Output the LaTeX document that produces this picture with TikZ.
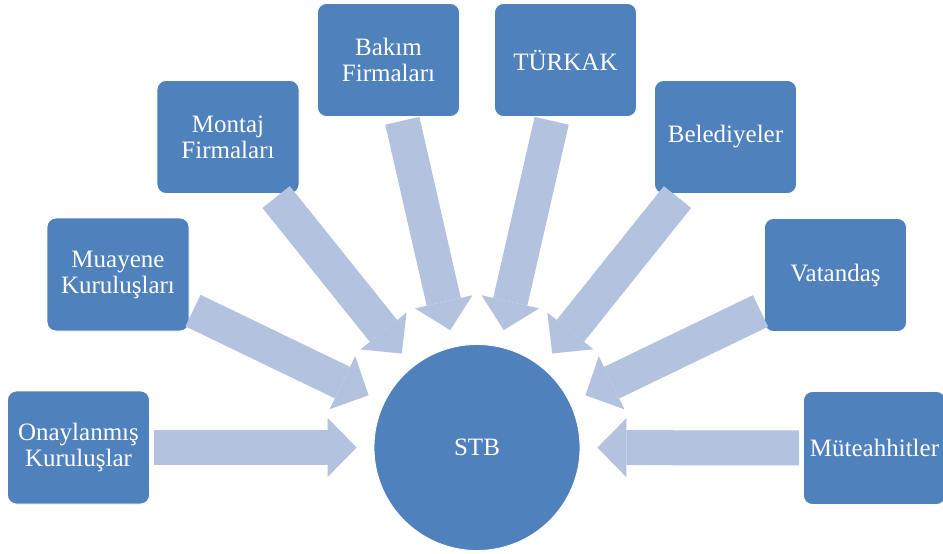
\documentclass[tikz,border=0pt]{standalone}
\usepackage{fontspec}
\setmainfont{Liberation Serif}
\usetikzlibrary{arrows.meta}

\definecolor{boxblue}{HTML}{4F81BD}
\definecolor{arrowblue}{HTML}{B3C2DE}

\tikzset{
	kurum/.style={rectangle, rounded corners=9pt, fill=boxblue, draw=white, line width=0.8pt,
		minimum width=142pt, minimum height=113pt, inner sep=2pt, align=center, text=white,
		font=\fontsize{25}{26}\selectfont},
	merkez/.style={circle, fill=boxblue, draw=white, line width=0.8pt, minimum size=206pt,
		inner sep=0pt, text=white, font=\fontsize{25}{26}\selectfont},
	okblok/.style={draw=arrowblue, line width=35pt, shorten <=4pt, shorten >=17pt,
		-{Triangle[width=59pt 0 0, length=29pt 0 0, line width=0pt 0 0]}}
}

\begin{document}
\begin{tikzpicture}[x=1pt,y=-1pt]
	\useasboundingbox (0,0) rectangle (943,554);
	\node[merkez] (stb) at (477,447.5) {STB};
	\node[kurum] (onay) at (78.5,447.5) {Onaylanmış\\Kuruluşlar};
	\node[kurum] (muay) at (118,274.5) {Muayene\\Kuruluşları};
	\node[kurum] (montaj) at (228,137) {Montaj\\Firmaları};
	\node[kurum] (bakim) at (388.5,60) {Bakım\\Firmaları};
	\node[kurum] (turkak) at (565.5,60) {TÜRKAK};
	\node[kurum] (beled) at (725.5,137) {Belediyeler};
	\node[kurum] (vatan) at (835.5,275) {Vatandaş};
	\node[kurum] (muteah) at (874.5,448) {Müteahhitler};
	\foreach \k in {onay,muay,montaj,bakim,turkak,beled,vatan,muteah}
		\draw[okblok] (\k) -- (stb);
\end{tikzpicture}
\end{document}
